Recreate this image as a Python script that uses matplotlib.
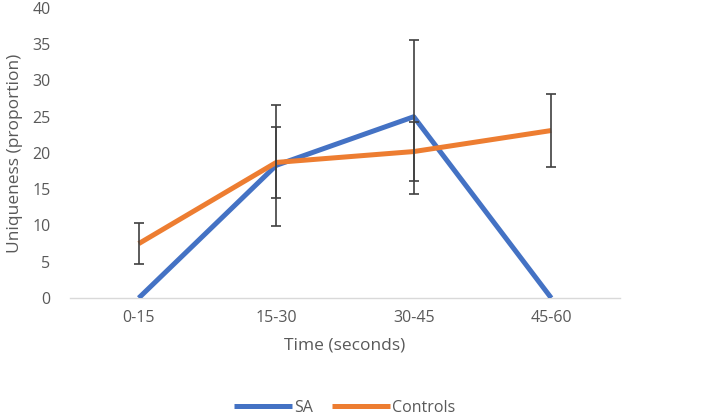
import matplotlib
matplotlib.use("Agg")
import matplotlib.pyplot as plt

# ── data ────────────────────────────────────────────────────────────────
categories = ["0-15", "15-30", "30-45", "45-60"]
sa_values = [0.0, 18.3, 25.0, 0.0]
sa_err = [0.0, 8.3, 10.6, 0.0]
controls_values = [7.5, 18.7, 20.2, 23.1]
controls_err = [2.8, 4.9, 4.1, 5.0]
y_ticks = [0, 5, 10, 15, 20, 25, 30, 35, 40]

# ── palette ─────────────────────────────────────────────────────────────
BLUE = "#4472C4"
ORANGE = "#ED7D31"
TEXT = "#595959"
AXIS = "#D9D9D9"
ERR = "#404040"

plt.rcParams["font.family"] = ["Open Sans", "DejaVu Sans"]

fig = plt.figure(figsize=(7.09, 4.18), dpi=100)
ax = fig.add_axes([70 / 709, 1 - 298 / 418, 550 / 709, 290 / 418])

xs = [i + 0.5 for i in range(len(categories))]

ax.plot(xs, sa_values, color=BLUE, linewidth=3.6, label="SA",
        solid_capstyle="butt", zorder=3)
ax.plot(xs, controls_values, color=ORANGE, linewidth=3.6, label="Controls",
        solid_capstyle="butt", zorder=3)

sa_idx = [i for i, e in enumerate(sa_err) if e > 0]
ax.errorbar([xs[i] for i in sa_idx], [sa_values[i] for i in sa_idx],
            yerr=[sa_err[i] for i in sa_idx], fmt="none", ecolor=ERR,
            elinewidth=1.2, capsize=3.5, capthick=1.2, zorder=4)
ax.errorbar(xs, controls_values, yerr=controls_err, fmt="none", ecolor=ERR,
            elinewidth=1.2, capsize=3.5, capthick=1.2, zorder=4)

ax.set_xlim(0, len(categories))
ax.set_ylim(0, 40)
ax.set_xticks(xs)
ax.set_xticklabels(categories)
ax.set_yticks(y_ticks)
ax.tick_params(axis="both", length=0, colors=TEXT, labelsize=11.5)
ax.tick_params(axis="x", pad=9)
ax.tick_params(axis="y", pad=14)

for side in ["top", "right", "left"]:
    ax.spines[side].set_visible(False)
ax.spines["bottom"].set_color(AXIS)
ax.spines["bottom"].set_linewidth(1.0)
ax.spines["bottom"].set_zorder(2)

ax.set_xlabel("Time (seconds)", color=TEXT, fontsize=12.5, labelpad=8)
ax.set_ylabel("Uniqueness (proportion)", color=TEXT, fontsize=12.5, labelpad=7)

fig.legend(loc="center", bbox_to_anchor=(345 / 709, 1 - 408 / 418), ncol=2,
           frameon=False, fontsize=11.5, handlelength=3.6, handletextpad=0.15,
           columnspacing=1.2, labelcolor=TEXT)

fig.savefig("out.png", dpi=100, facecolor="white")
